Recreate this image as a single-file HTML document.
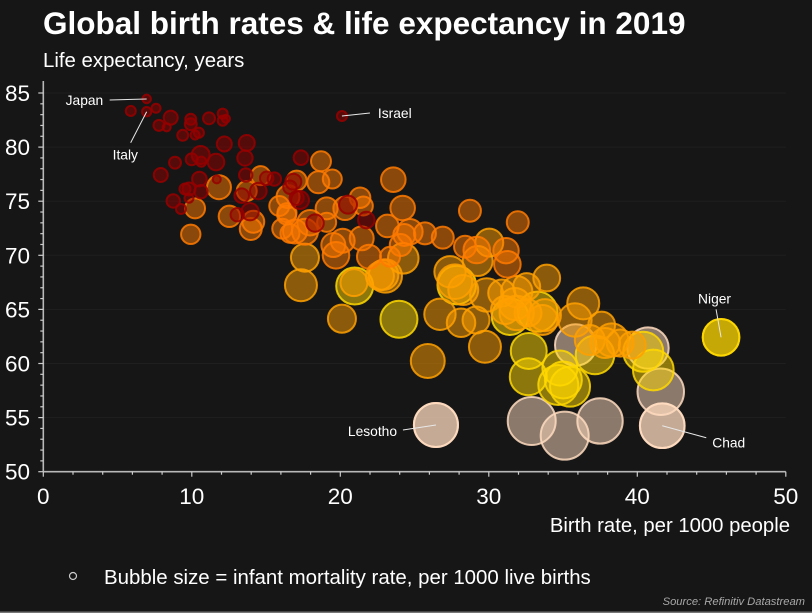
<!DOCTYPE html>
<html lang="en">
<head>
<meta charset="utf-8">
<title>Global birth rates and life expectancy in 2019</title>
<style>
html,body{margin:0;padding:0;background:#161616;}
svg{display:block;font-family:"Liberation Sans",Arial,sans-serif;}
</style>
</head>
<body>
<svg id="chart" width="812" height="613" viewBox="0 0 812 613" xmlns="http://www.w3.org/2000/svg">
<rect width="812" height="613" fill="#161616"/>
<rect x="0" y="611.5" width="812" height="1.5" fill="#777"/>
<text x="43" y="34" font-size="31.5" font-weight="bold" fill="#fff">Global birth rates &amp; life expectancy in 2019</text>
<text x="43" y="67" font-size="20.4" fill="#fff">Life expectancy, years</text>
<g id="grid"></g>
<g id="bubbles"></g>
<g id="axes"></g>
<g id="notes"></g>
<text x="790" y="532" text-anchor="end" font-size="20.3" fill="#fff">Birth rate, per 1000 people</text>
<circle cx="73" cy="576" r="3.5" fill="none" stroke="#ccc" stroke-width="1.2"/>
<text x="104" y="584" font-size="20.45" fill="#fff">Bubble size = infant mortality rate, per 1000 live births</text>
<text x="805" y="605" text-anchor="end" font-size="11.2" font-style="italic" fill="#a8a8a8">Source: Refinitiv Datastream</text>
</svg>
<script>
var birthRate = [6.96,6.96,5.89,7.59,8.58,7.79,8.31,9.93,9.93,10.22,10.48,9.39,11.16,12.08,12.08,12.3,12.19,13.7,13.58,10.6,9.99,10.64,11.63,8.87,7.91,13.63,10.51,11.68,9.54,9.81,10.62,9.81,8.75,9.27,13.36,13.92,13.06,14.48,15.04,15.56,16.61,16.84,17.35,17.06,17.29,20.52,21.75,18.3,20.11,
9.93,10.22,11.83,12.53,13.7,14.64,14.14,13.97,15.89,16.41,16.09,16.48,18.7,18.52,19.46,17.06,23.57,24.2,28.73,31.95,21.33,21.55,19.08,20.32,23.17,24.69,25.7,26.9,24.31,24.07,21.44,20.16,19.53,19.71,21.93,23.35,17.62,17.96,19.08,16.39,16.61,16.95,28.4,29.19,31.16,31.25,
17.62,17.35,20.11,20.92,23.03,22.9,22.67,24.24,26.71,28.13,29.14,27.39,27.72,28.28,30.03,29.25,29.86,30.87,31.88,32.55,29.74,25.89,33.62,33.9,33.78,31.76,31.09,32.64,36.36,35.8,37.6,38.28,37.83,36.8,38.85,39.66,31.88,
20.97,23.95,27.84,31.43,33.28,32.69,32.66,35.02,34.79,34.68,35.47,37.15,40.4,41.08,45.64,
35.85,40.72,41.58,41.68,26.44,32.89,35.11,37.49];
var lifeExpectancy = [84.45,83.27,83.34,83.59,82.72,82.01,81.83,82.57,82.11,81.12,81.33,81.09,82.66,83.09,82.44,82.62,80.29,80.38,78.99,79.27,78.87,78.65,78.62,78.56,77.42,77.42,77.05,77.02,76.13,76.13,75.88,75.27,75.02,74.28,75.51,74.03,73.75,75.94,77.12,77.05,76.29,76.8,79.02,75.3,75.11,74.68,73.26,72.98,82.87,
71.94,74.34,76.29,73.6,75.94,77.36,73.1,72.43,74.56,73.94,72.46,75.42,78.69,76.75,77.05,76.9,76.99,74.37,74.12,73.05,75.32,74.56,74.34,74.34,72.71,72.18,72.03,71.63,71.88,70.95,71.57,71.35,70.95,70,69.87,69.87,72.18,73.01,73.05,73.72,72.03,72.2,70.79,70.49,70.43,69.17,
69.78,67.23,64.14,67.47,68.09,68.18,68.09,69.72,64.55,63.77,64.02,68.48,67.56,66.79,71.17,69.47,66.33,66.51,66.64,67.1,61.55,60.23,64.02,67.9,64.47,65.5,64.94,64.67,65.56,64.02,63.56,62.17,61.89,62.17,61.89,61.7,64.67,
67.16,64.09,67.25,64.33,64.79,61.16,58.78,58.48,59.58,58.01,57.86,60.79,61.09,59.4,62.42,
61.71,61.43,57.39,54.25,54.32,54.69,53.33,54.69];
var infantMortality = [2.6,3.1,3.6,2.9,7,4.3,2.3,4.3,5.1,2.9,3.6,4.3,5.1,3.6,3.6,2.3,8,9.1,8.4,11.5,5.1,3.6,9.8,5.1,7,6.4,7.6,2.3,4.3,6,6.4,2.9,6.4,3.6,7.6,10.8,6.4,9.8,6.4,6.4,6.4,9.1,7.6,7,11.5,11.5,9.8,10.8,3.6,
13.4,14.2,20.5,16.3,14.2,12.9,17.2,17.2,14.2,12.9,14.2,18.8,14.2,17.2,12.9,14.2,21.5,21.5,17.2,17.2,15.1,12.9,17.2,19.5,18.2,23,17.2,17.2,17.2,17.2,20.5,20.5,20.5,25.2,20.5,14.2,24,23,13,12.9,12.9,20.5,17.2,25.2,23,25.2,
28,36.5,28,26,39.7,32,28,33.3,35,29,26,35,42.6,32,28,32,39.7,26,35,26,36.5,41,32,25.6,36.5,36.5,28,26,36.5,39.7,25.6,39.7,32,32,26,26,42,
48.7,48.7,53,47.7,57,46.1,48.7,48.7,44,57,57,53,57,59,47.7,
61,61,77,71,69,82,82,73.4];
var xTickValues = [0,10,20,30,40,50];
var yTickValues = [50,55,60,65,70,75,80,85];
var labelNames = ["Japan","Italy","Israel","Lesotho","Chad","Niger"];
var labelBirth = [6.96,6.96,20.11,26.44,41.68,45.64];
var labelLife = [84.45,83.27,82.87,54.32,54.25,62.42];
var labelMortality = [2.6,3.1,3.6,69,71,47.7];

var NS = 'http://www.w3.org/2000/svg';
function xScale(v){ return 43.3 + v * 14.85; }
function yScale(v){ return 471.7 - (v - 50) * 10.82; }
function rScale(m){ return 2.65 * Math.sqrt(m); }
function colorFor(m){
  if (m < 12) return '#960000';
  if (m < 25.5) return '#ff7a00';
  if (m < 43) return '#ffa000';
  if (m < 60) return '#ffd800';
  return '#ffdcc0';
}
function make(tag, attrs, parent){
  var el = document.createElementNS(NS, tag);
  for (var k in attrs) el.setAttribute(k, attrs[k]);
  parent.appendChild(el);
  return el;
}
var gridG = document.getElementById('grid');
var bubG = document.getElementById('bubbles');
var axG = document.getElementById('axes');
var noteG = document.getElementById('notes');

yTickValues.forEach(function(v){
  if (v === 50) return;
  var g = make('line', {x1:xScale(0), x2:xScale(50), y1:yScale(v), y2:yScale(v), stroke:'#1f1f1f', 'stroke-width':1}, gridG);
  
  
});

function drawBubble(b, l, m, name){
  var col = colorFor(m);
  var c = make('circle', {cx:xScale(b), cy:yScale(l), r:rScale(m), fill:col, 'fill-opacity':0.5, stroke:col, 'stroke-opacity':0.85, 'stroke-width':2}, bubG);
  
  
}
var order = birthRate.map(function(_, i){ return i; }).sort(function(a, b){ return infantMortality[b] - infantMortality[a]; });
order.forEach(function(i){
  drawBubble(birthRate[i], lifeExpectancy[i], infantMortality[i], 'country-bubble');
});
labelNames.forEach(function(n, i){
  if (labelMortality[i] < 12) return;
  drawBubble(labelBirth[i], labelLife[i], labelMortality[i], 'bubble-' + n.toLowerCase());
});

// axes
var yLine = make('line', {x1:xScale(0), x2:xScale(0), y1:81, y2:yScale(50), stroke:'#b8b8b8', 'stroke-width':1.6}, axG);


var xLine = make('line', {x1:xScale(0), x2:xScale(50), y1:yScale(50), y2:yScale(50), stroke:'#b8b8b8', 'stroke-width':1.6}, axG);


for (var xv = 0; xv <= 50; xv += 2) {
  var xMajor = xv % 10 === 0;
  var xt = make('line', {x1:xScale(xv), x2:xScale(xv), y1:yScale(50), y2:yScale(50) + (xMajor ? 5 : 3), stroke:'#ccc', 'stroke-width':1.2}, axG);
  
  
}
for (var yv = 50; yv <= 85; yv += 1) {
  var yMajor = yv % 5 === 0;
  var yt = make('line', {x1:xScale(0) - (yMajor ? 5 : 3), x2:xScale(0), y1:yScale(yv), y2:yScale(yv), stroke:'#ccc', 'stroke-width':1.2}, axG);
  
  
}
xTickValues.forEach(function(v){
  var t = make('text', {x:xScale(v), y:504, 'text-anchor':'middle', 'font-size':22.5, fill:'#fff'}, axG);
  t.textContent = v;
  
  
});
yTickValues.forEach(function(v){
  var t = make('text', {x:30, y:yScale(v) + 8, 'text-anchor':'end', 'font-size':22.5, fill:'#fff'}, axG);
  t.textContent = v;
  
  
});

// annotations: text anchored relative to its country's bubble
function annotate(i, tx, ty, lx, ly){
  var px = xScale(labelBirth[i]), py = yScale(labelLife[i]);
  var ln = make('line', {x1:px + lx, y1:py + ly, x2:px, y2:py, stroke:'#e8e8e8', 'stroke-width':1}, noteG);
  
  
  var t = make('text', {x:px + tx, y:py + ty, 'font-size':13.8, fill:'#fff'}, noteG);
  t.textContent = labelNames[i];
  
  
}
annotate(0, -81, 6, -37, 1);
annotate(1, -34, 48, -16, 31);
annotate(2, 36, 2, 28, -3);
annotate(3, -88, 11, -33, 5);
annotate(4, 50, 22, 44, 12);
annotate(5, -23, -34, -5, -28);
</script>
</body>
</html>
